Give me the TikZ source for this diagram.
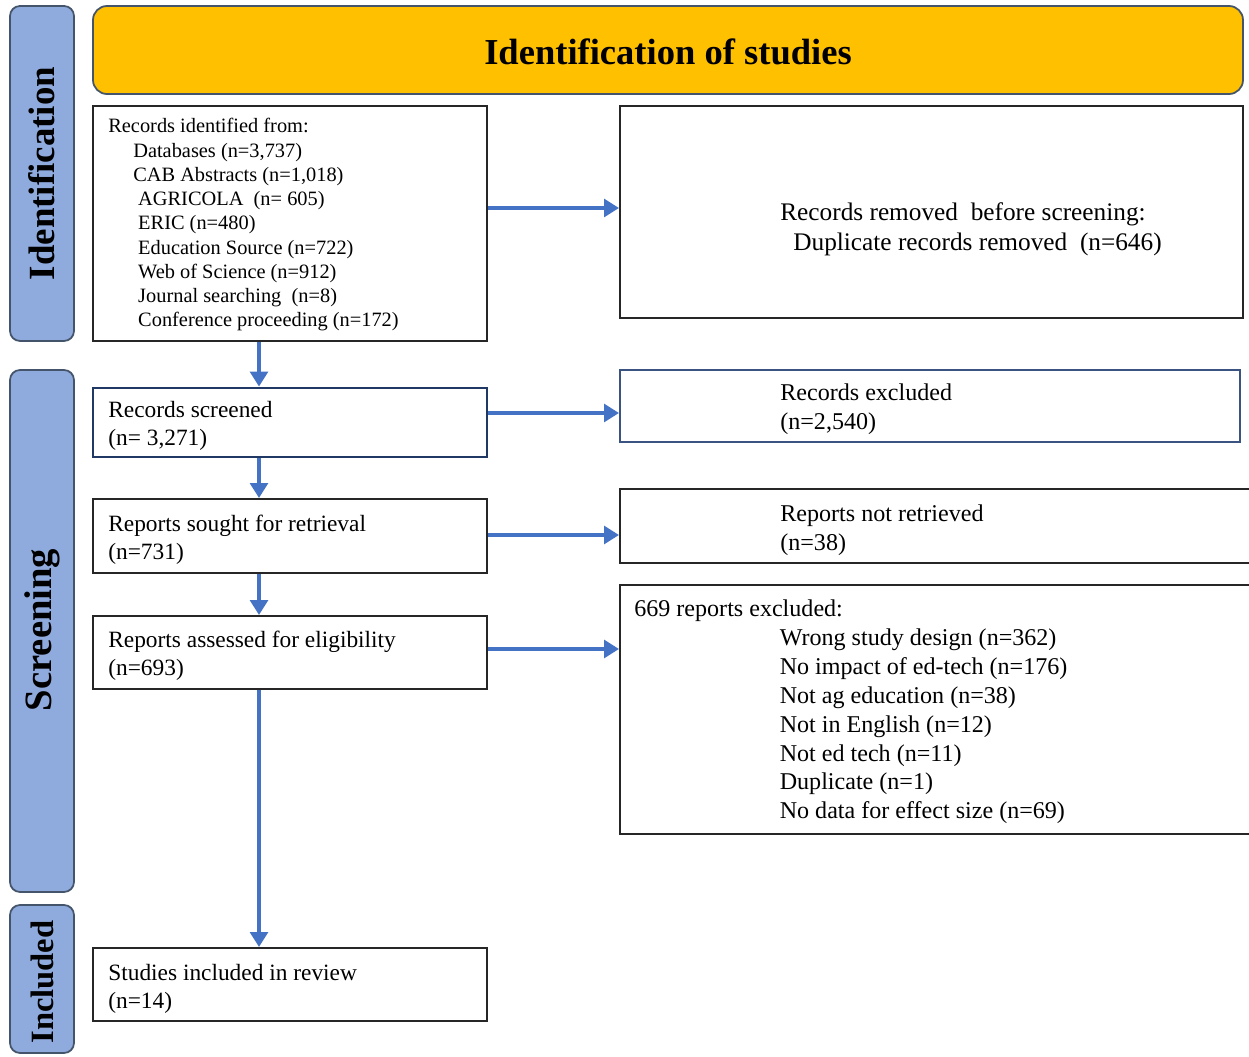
\documentclass[tikz,border=0pt]{standalone}
\usepackage{fontspec}
\setmainfont{Liberation Serif}
\usetikzlibrary{arrows.meta,fit}
\definecolor{barblue}{HTML}{8FAADC}
\definecolor{barline}{HTML}{44546A}
\definecolor{gold}{HTML}{FFC000}
\definecolor{arrblue}{HTML}{4472C4}
\definecolor{boxline}{HTML}{262626}
\definecolor{navy}{HTML}{1F3864}
\definecolor{slate}{HTML}{3B5380}
\newcommand{\fszId}{\fontsize{11.6}{13.8}\selectfont}
\newcommand{\fszL}{\fontsize{13.3}{15.9}\selectfont}
\newcommand{\fszR}{\fontsize{13.7}{16.4}\selectfont}
\newcommand{\fszRm}{\fontsize{14.4}{17}\selectfont}
\begin{document}
\begin{tikzpicture}[x=0.02cm,y=-0.02cm,
  bar/.style={draw=barline, line width=1pt, fill=barblue, rounded corners=0.2cm, inner sep=0},
  bartext/.style={rotate=90, inner sep=0},
  box/.style={draw=boxline, line width=1.1pt, inner sep=0},
  arr/.style={draw=arrblue, line width=2.6pt, -{Triangle[length=8.5pt,width=10pt]}},
  txt/.style={align=left, anchor=west, inner sep=0}]
\useasboundingbox (0,0) rectangle (1249,1057);
\begin{scope}
\clip (0,0) rectangle (1249,1057);
% side bars
\node[bar, fit={(10,6) (74,341)}] (barid) {};
\node[bar, fit={(10,370) (74,892)}] (barsc) {};
\node[bar, fit={(10,905) (74,1053)}] (barin) {};
\node[bartext, font=\bfseries\fontsize{21}{24}\selectfont] (barid-t) at (barid.center) {Identification};
\node[bartext, font=\bfseries\fontsize{22}{25}\selectfont] (barsc-t) at (42,630) {Screening};
\node[bartext, font=\bfseries\fontsize{18.5}{21}\selectfont] (barin-t) at (42,982) {Included};
% title
\node[draw=barline, line width=1pt, fill=gold, rounded corners=0.28cm, inner sep=0, fit={(93,6) (1243,94)}] (title) {};
\node[inner sep=0, font=\bfseries\fontsize{20.8}{24}\selectfont] (title-t) at (668,52) {Identification of studies};
% boxes
\node[box, fit={(93,106) (487,341)}] (idbox) {};
\node[box, fit={(620,106) (1243,318)}] (removed) {};
\node[box, draw=navy, line width=1.6pt, fit={(93,388) (487,457)}] (screened) {};
\node[box, draw=slate, fit={(620,370) (1240,442)}] (excluded) {};
\node[box, fit={(93,499) (487,573)}] (sought) {};
\node[box, fit={(620,489) (1262,563)}] (notret) {};
\node[box, fit={(93,616) (487,689)}] (assessed) {};
\node[box, fit={(620,585) (1262,834)}] (excl) {};
\node[box, fit={(93,948) (487,1021)}] (incl) {};
% texts
\node[txt, font=\fszId] (idbox-t) at (108,225) {Records identified from:\\
\hspace*{14.2pt}Databases (n=3,737)\\
\hspace*{14.2pt}CAB Abstracts (n=1,018)\\
\hspace*{17pt}AGRICOLA\ \ (n= 605)\\
\hspace*{17pt}ERIC (n=480)\\
\hspace*{17pt}Education Source (n=722)\\
\hspace*{17pt}Web of Science (n=912)\\
\hspace*{17pt}Journal searching\ \ (n=8)\\
\hspace*{17pt}Conference proceeding (n=172)};
\node[txt, font=\fszRm] (removed-t) at (780,229) {Records removed\ \ before screening:\\
\hspace*{7.4pt}Duplicate records removed\ \ (n=646)};
\node[txt, font=\fszL] (screened-t) at (108,426) {Records screened\\(n= 3,271)};
\node[txt, font=\fszR] (excluded-t) at (780,409.5) {Records excluded\\(n=2,540)};
\node[txt, font=\fszL] (sought-t) at (108,539.5) {Reports sought for retrieval\\(n=731)};
\node[txt, font=\fszR] (notret-t) at (780,530.5) {Reports not retrieved\\(n=38)};
\node[txt, font=\fszL] (assessed-t) at (108,655.5) {Reports assessed for eligibility\\(n=693)};
\node[txt, font=\fszR] (excl-t) at (634,712) {669 reports excluded:\\
\hspace*{82.8pt}Wrong study design (n=362)\\
\hspace*{82.8pt}No impact of ed-tech (n=176)\\
\hspace*{82.8pt}Not ag education (n=38)\\
\hspace*{82.8pt}Not in English (n=12)\\
\hspace*{82.8pt}Not ed tech (n=11)\\
\hspace*{82.8pt}Duplicate (n=1)\\
\hspace*{82.8pt}No data for effect size (n=69)};
\node[txt, font=\fszL] (incl-t) at (108,988.5) {Studies included in review\\(n=14)};
% arrows
\draw[arr] (idbox.east |- 0,208) -- (removed.west |- 0,208);
\draw[arr] (screened.east |- 0,413) -- (excluded.west |- 0,413);
\draw[arr] (sought.east |- 0,535) -- (notret.west |- 0,535);
\draw[arr] (assessed.east |- 0,649) -- (excl.west |- 0,649);
\draw[arr] (idbox.south -| 259,0) -- (screened.north -| 259,0);
\draw[arr] (screened.south -| 259,0) -- (sought.north -| 259,0);
\draw[arr] (sought.south -| 259,0) -- (assessed.north -| 259,0);
\draw[arr] (assessed.south -| 259,0) -- (incl.north -| 259,0);
\end{scope}
\end{tikzpicture}
\end{document}
